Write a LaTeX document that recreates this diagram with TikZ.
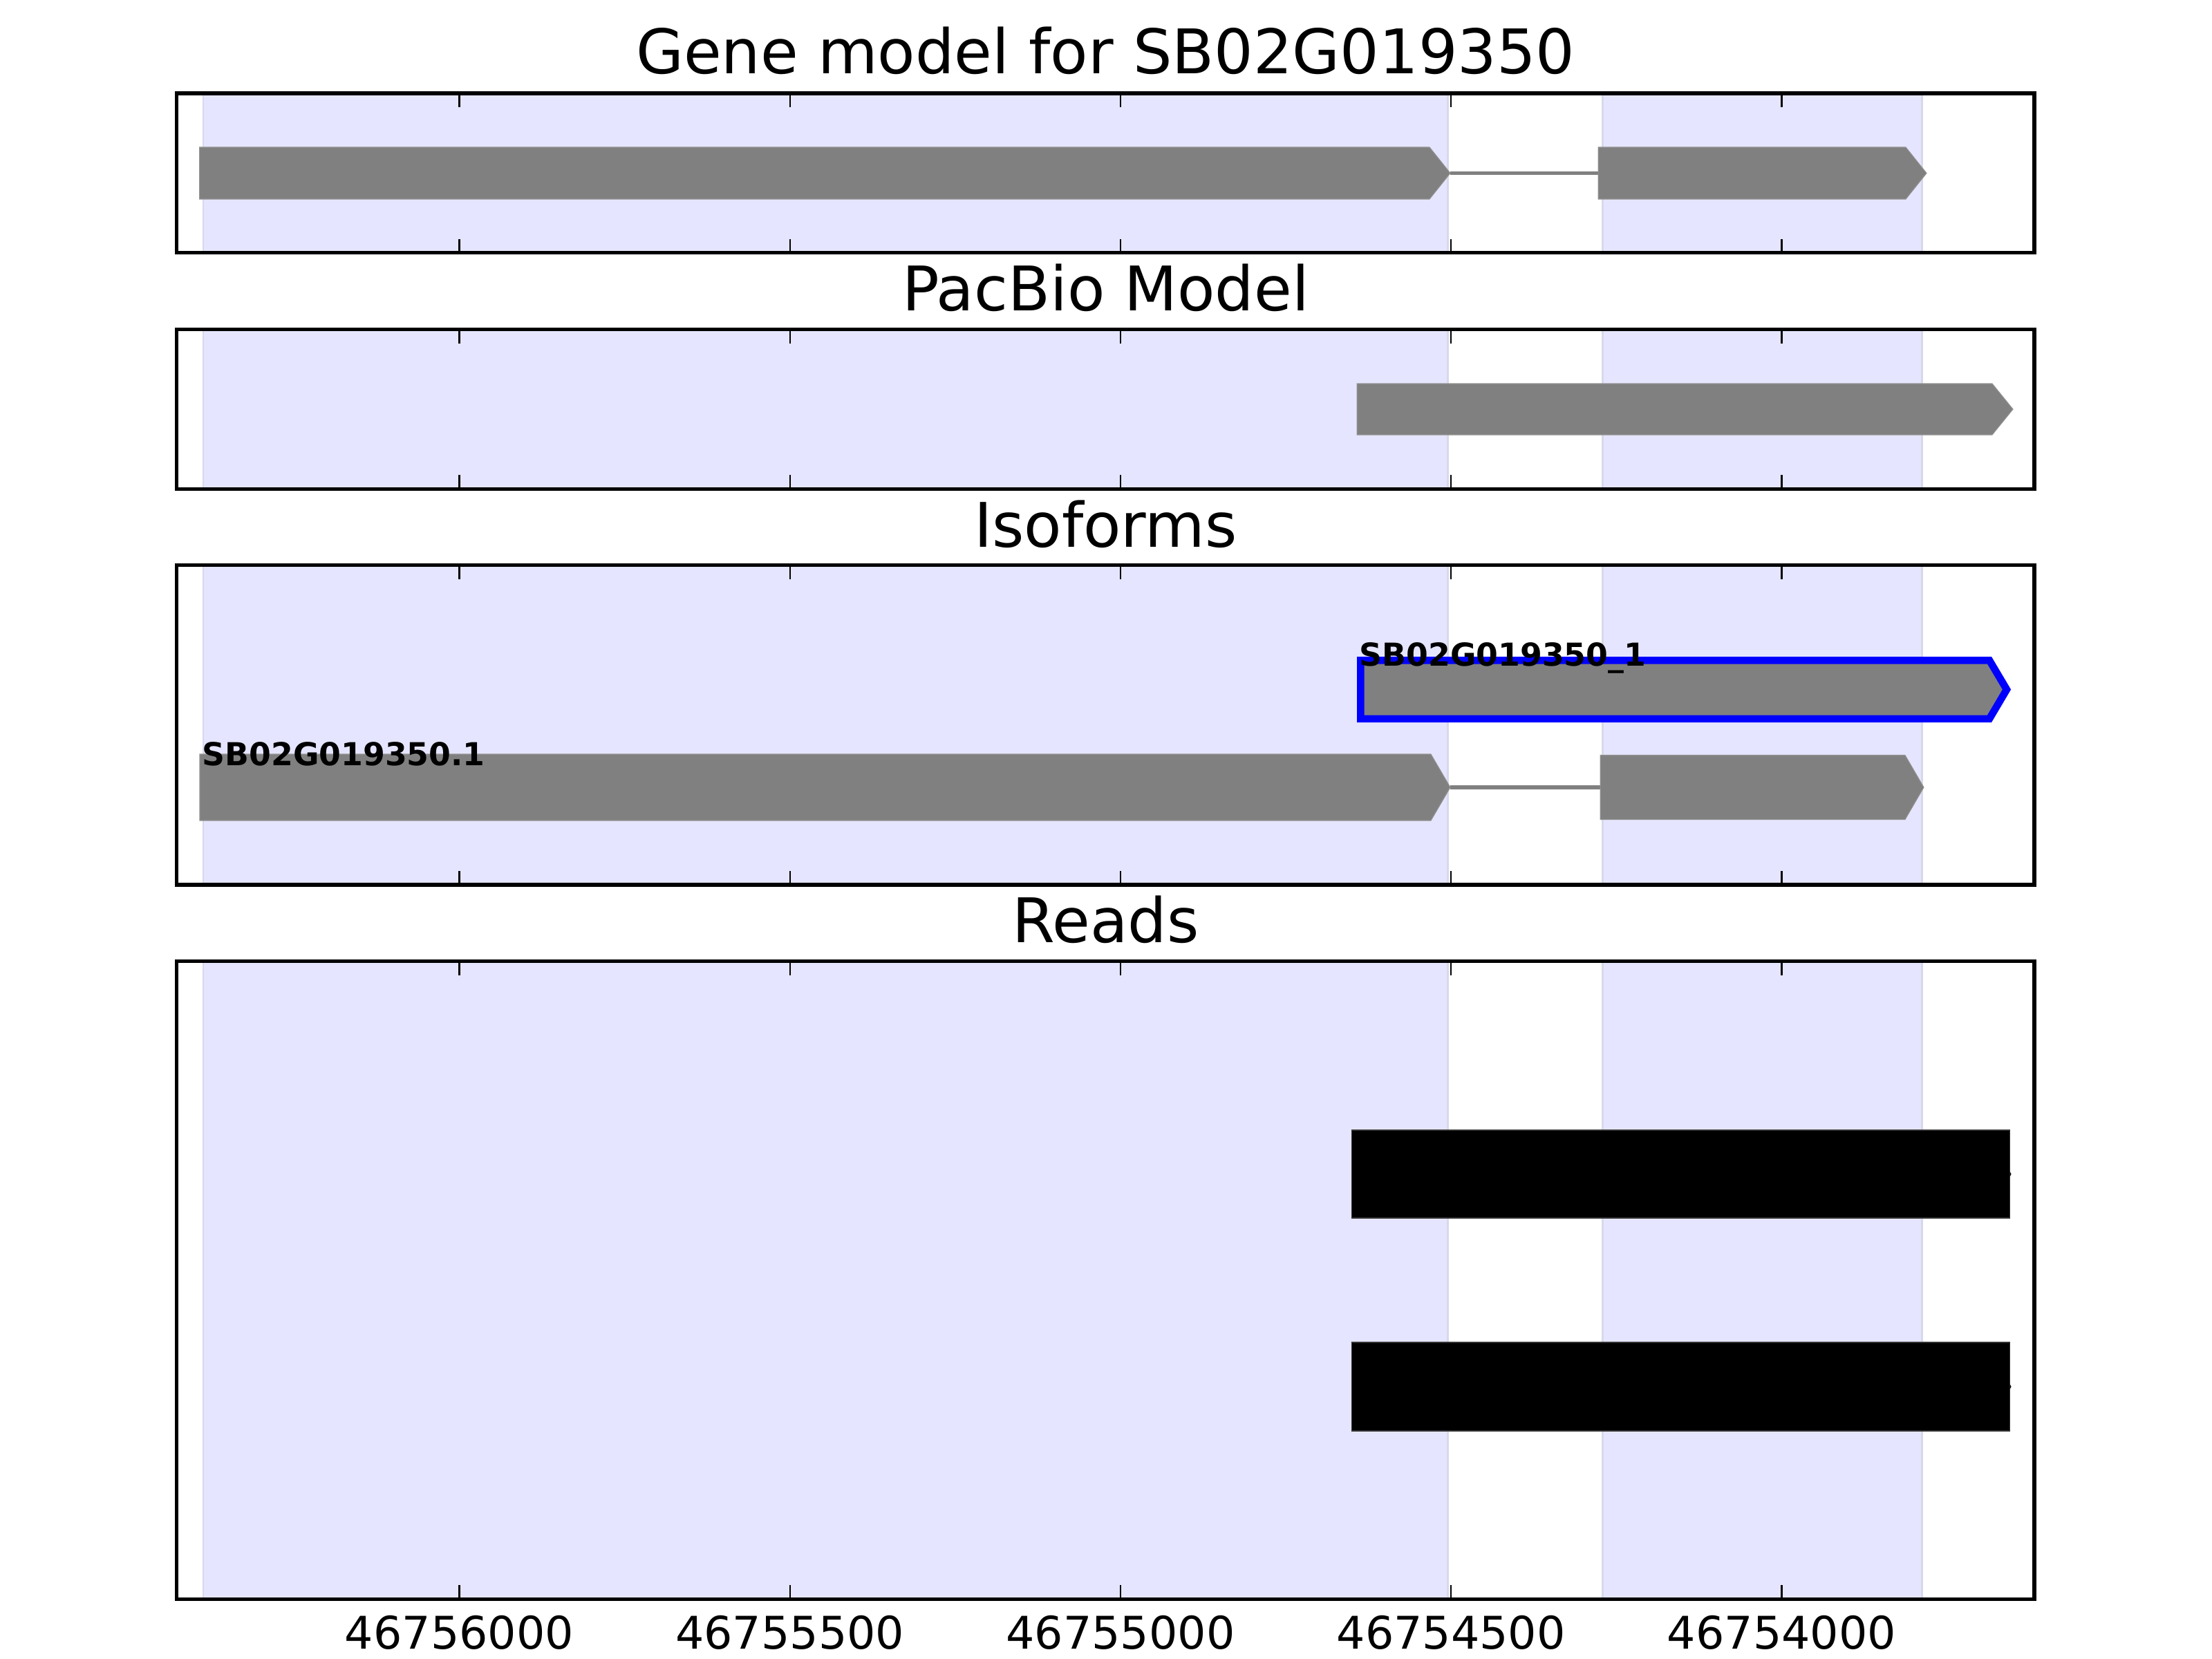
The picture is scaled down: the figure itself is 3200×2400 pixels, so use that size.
\documentclass[tikz,border=0pt]{standalone}
\usepackage{fontspec}
\setmainfont{DejaVu Sans}
\newfontfamily\mybold{DejaVu Sans Bold}
\newcommand\mytitlefont{\fontsize{25.3pt}{30pt}\selectfont}
\newcommand\myticksfont{\fontsize{18.5pt}{22pt}\selectfont}
\newcommand\mylabelfont{\mybold\fontsize{13pt}{15pt}\selectfont}
\definecolor{spanblue}{RGB}{229,229,255}
\definecolor{spanedge}{RGB}{216,216,236}
\definecolor{exongray}{RGB}{128,128,128}
\definecolor{isoblue}{RGB}{0,0,255}
\begin{document}
\begin{tikzpicture}[x=0.01cm,y=-0.01cm,
  spanbox/.style={fill=spanblue, draw=spanedge, line width=0.85pt},
  tickline/.style={draw=black, line width=0.65pt},
  frame/.style={draw=black, line width=1.5pt},
  exon/.style={fill=exongray, draw=exongray!85!white, line width=0.3pt},
  intron/.style={draw=exongray, line width=1.6pt},
  readbar/.style={fill=black, draw=black!80, line width=0.3pt},
  ptitle/.style={font=\mytitlefont, inner sep=0pt, anchor=base},
  ticklabel/.style={font=\myticksfont, inner sep=0pt, anchor=base},
  isolabel/.style={font=\mylabelfont, inner sep=0pt, anchor=base west}]
\useasboundingbox[fill=white] (0,0) rectangle (3200,2400);

% panels: top/bottom
\foreach \t/\b in {135/365.7, 476.5/707.2, 817.5/1279.9, 1390.5/2313.3}{
  \path[spanbox] (294,\t) rectangle (2094,\b);
  \path[spanbox] (2318,\t) rectangle (2780,\b);
}

% Panel 1: gene model
\path[exon] (288.7,213) -- (2068,213) -- (2098,250.5) -- (2068,288) -- (288.7,288) -- cycle;
\draw[intron] (2098,250.5) -- (2312,250.5);
\path[exon] (2312,213) -- (2757,213) -- (2787,250.5) -- (2757,288) -- (2312,288) -- cycle;

% Panel 2: PacBio
\path[exon] (1963,555) -- (2882,555) -- (2912,592) -- (2882,629) -- (1963,629) -- cycle;

% Panel 3: isoforms
\path[fill=exongray, draw=isoblue, line width=3pt, line join=miter]
  (1968.4,955.3) -- (2878,955.3) -- (2903,997.5) -- (2878,1039.8) -- (1968.4,1039.8) -- cycle;
\node[isolabel] (lab1) at (1966,963) {SB02G019350\_1};
\path[exon] (289,1091) -- (2070,1091) -- (2098,1139) -- (2070,1187) -- (289,1187) -- cycle;
\draw[intron] (2098,1139) -- (2315,1139);
\path[exon] (2315,1092.5) -- (2756,1092.5) -- (2783,1139) -- (2756,1185.5) -- (2315,1185.5) -- cycle;
\node[isolabel] (lab2) at (292,1107) {SB02G019350.1};

% Panel 4: reads
\path[readbar] (1955,1635) rectangle (2907.7,1762);
\fill (2907.7,1695) -- (2909.5,1698.5) -- (2907.7,1702) -- cycle;
\path[readbar] (1955,1942) rectangle (2907.7,2070);
\fill (2907.7,2002.5) -- (2909.5,2006) -- (2907.7,2009.5) -- cycle;

% ticks and frames
\foreach \t/\b in {135/365.7, 476.5/707.2, 817.5/1279.9, 1390.5/2313.3}{
  \foreach \x in {664.5, 1142.75, 1621, 2099.25, 2577.5}{
    \draw[tickline] (\x,\t) -- (\x,\t+20);
    \draw[tickline] (\x,\b) -- (\x,\b-20);
  }
  \draw[frame] (255.8,\t) rectangle (2943,\b);
}

% titles
\node[ptitle] (title1) at (1599.4,107) {Gene model for SB02G019350};
\node[ptitle] (title2) at (1599.4,449) {PacBio Model};
\node[ptitle] (title3) at (1599.4,791) {Isoforms};
\node[ptitle] (title4) at (1599.4,1363) {Reads};

% tick labels
\node[ticklabel] (tl1) at (664.5,2385) {46756000};
\node[ticklabel] (tl2) at (1142.75,2385) {46755500};
\node[ticklabel] (tl3) at (1621,2385) {46755000};
\node[ticklabel] (tl4) at (2099.25,2385) {46754500};
\node[ticklabel] (tl5) at (2577.5,2385) {46754000};
\end{tikzpicture}
\end{document}
